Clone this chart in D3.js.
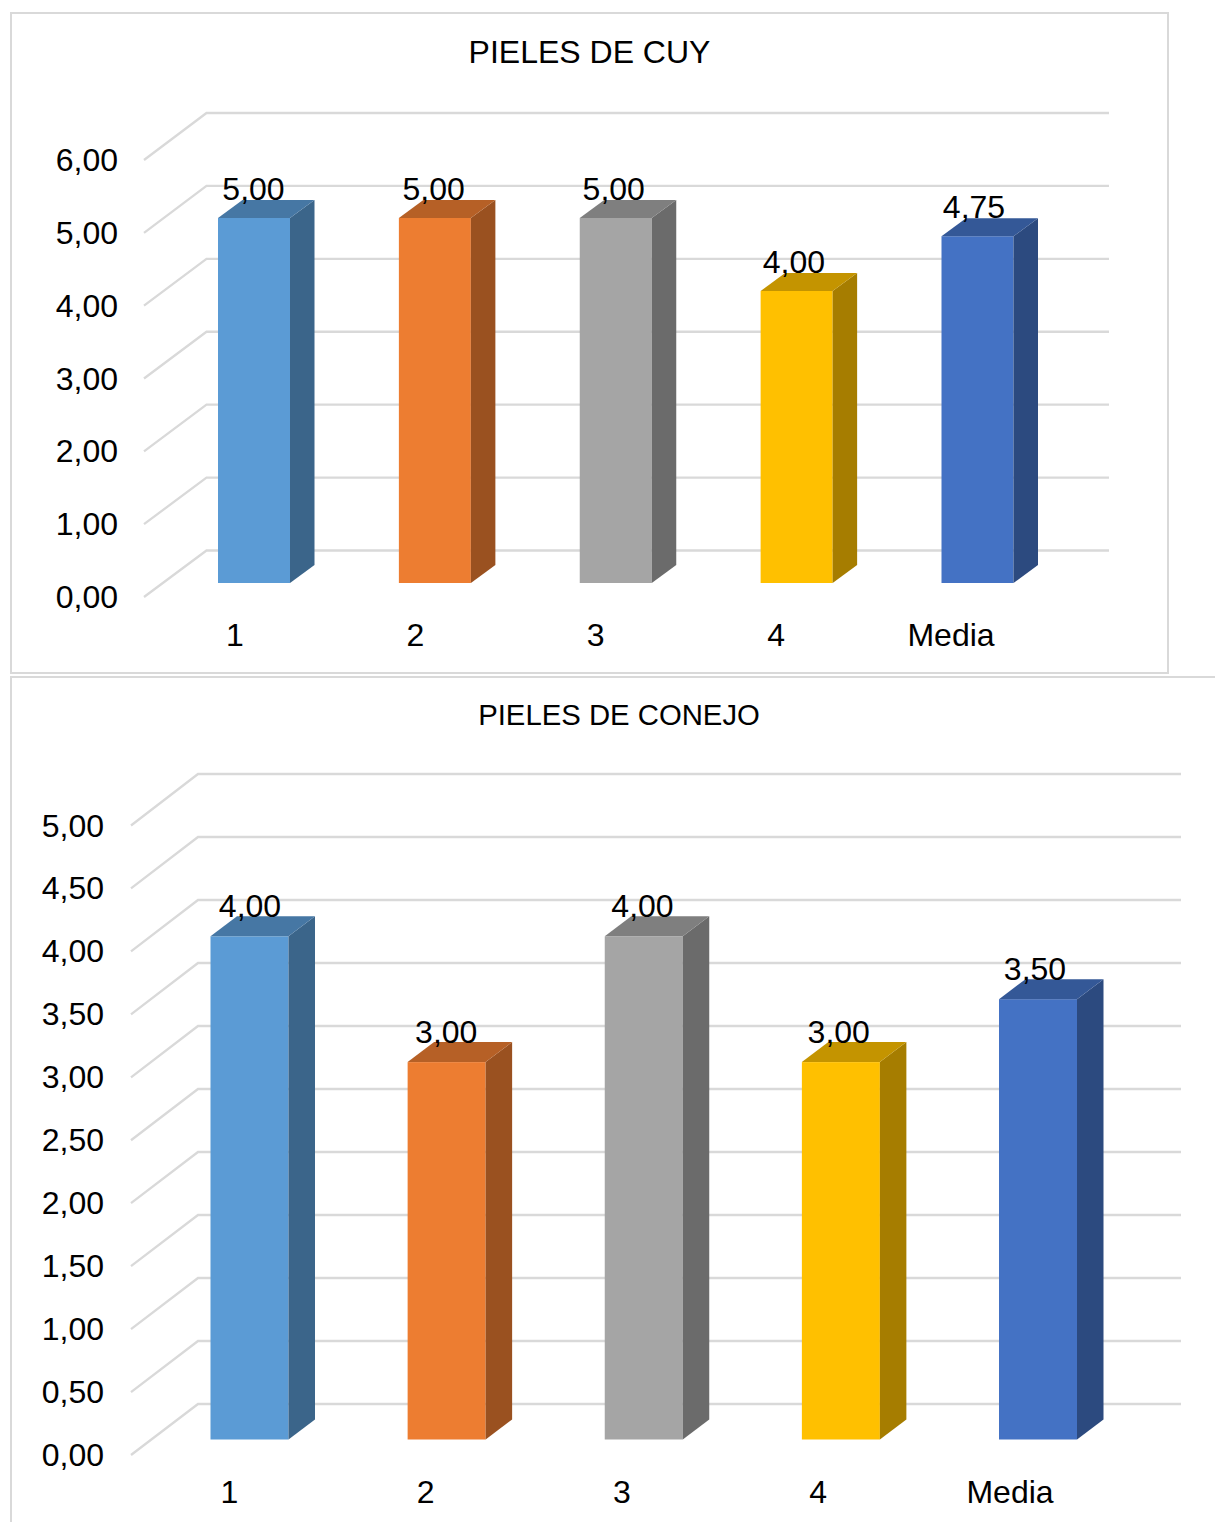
<!DOCTYPE html>
<html lang="es">
<head>
<meta charset="utf-8">
<title>Pieles de cuy y de conejo</title>
<script src="https://cdn.jsdelivr.net/npm/d3@7/dist/d3.min.js"></script>
<style>
  html, body { margin: 0; padding: 0; background: #fff; }
  svg { display: block; }
  text { font-family: "Liberation Sans", Arial, sans-serif; fill: #000; }
</style>
</head>
<body>
<svg id="chart" width="1215" height="1522"></svg>
<script>
// Shared categories and bar colours
const categories = ["1", "2", "3", "4", "Media"];
const barColors = ["#5B9BD5", "#ED7D31", "#A5A5A5", "#FFC000", "#4472C4"];

// Values per chart
const cuyValues = [5, 5, 5, 4, 4.75];
const conejoValues = [4, 3, 4, 3, 3.5];

// Axis ticks per chart
const cuyTicks = [0, 1, 2, 3, 4, 5, 6];
const conejoTicks = [0, 0.5, 1, 1.5, 2, 2.5, 3, 3.5, 4, 4.5, 5];

const GRID = "#d9d9d9";
const fmt = v => v.toFixed(2).replace(".", ",");
const shade = (c, k) => {
  const r = d3.rgb(c);
  return d3.rgb(r.r * k, r.g * k, r.b * k).formatHex();
};

const svg = d3.select("#chart");

// Draws one pseudo-3D column chart: floor and left wall gridlines, then extruded bars
function columnChart(cfg) {
  const g = svg.append("g");
  const maxTick = d3.max(cfg.ticks);

  const yFront = d3.scaleLinear().domain([0, maxTick]).range(cfg.frontY);
  const yBack = d3.scaleLinear().domain([0, maxTick]).range(cfg.backY);
  const yBar = d3.scaleLinear().domain([0, maxTick]).range(cfg.barY);
  const x = d3.scaleBand().domain(categories)
    .range(cfg.barX).paddingInner(cfg.gap).paddingOuter(0);
  const xValue = d3.scalePoint().domain(categories).range(cfg.valueX);
  const xCat = d3.scalePoint().domain(categories).range(cfg.catX);

  g.append("text")
    .attr("x", cfg.titleX).attr("y", cfg.titleY)
    .attr("text-anchor", "middle")
    .attr("font-size", cfg.titleSize)
    .text(cfg.title);

  const grid = g.append("g").attr("fill", "none")
    .attr("stroke", GRID).attr("stroke-width", 2.3);
  grid.selectAll("polyline").data(cfg.ticks).join("polyline")
    .attr("points", d => [
      [cfg.frontX, yFront(d)],
      [cfg.wallX, yBack(d)],
      [cfg.gridEnd, yBack(d)]
    ].join(" "));

  g.append("g").selectAll("text").data(cfg.ticks).join("text")
    .attr("x", cfg.tickX).attr("y", d => yFront(d) + 11)
    .attr("text-anchor", "end")
    .attr("font-size", 32)
    .text(fmt);

  const rows = categories.map((c, i) => ({ c, v: cfg.values[i], color: barColors[i] }));
  const bars = g.append("g").selectAll("g").data(rows).join("g");
  const w = x.bandwidth();
  const [dx, dy] = cfg.depth;

  bars.append("rect")
    .attr("x", d => x(d.c)).attr("y", d => yBar(d.v))
    .attr("width", w).attr("height", d => yBar(0) - yBar(d.v))
    .attr("fill", d => d.color);

  bars.append("polygon")
    .attr("fill", d => shade(d.color, 0.65))
    .attr("points", d => {
      const r = x(d.c) + w;
      return [[r, yBar(d.v)], [r + dx, yBar(d.v) - dy], [r + dx, yBar(0) - dy], [r, yBar(0)]].join(" ");
    });

  bars.append("polygon")
    .attr("fill", d => shade(d.color, 0.77))
    .attr("points", d => {
      const l = x(d.c);
      const t = yBar(d.v);
      return [[l, t], [l + dx, t - dy], [l + w + dx, t - dy], [l + w, t]].join(" ");
    });

  bars.append("text")
    .attr("x", d => xValue(d.c))
    .attr("y", d => yBar(d.v) - cfg.valueGap)
    .attr("text-anchor", "middle")
    .attr("font-size", 32)
    .text(d => fmt(d.v));

  bars.append("text")
    .attr("x", d => xCat(d.c) + (d.c === "Media" ? cfg.mediaShift : 0))
    .attr("y", cfg.catY)
    .attr("text-anchor", "middle")
    .attr("font-size", 32)
    .text(d => d.c);
}

// Frames around the two chart areas
svg.append("rect")
  .attr("x", 11).attr("y", 13).attr("width", 1157).attr("height", 660)
  .attr("fill", "none").attr("stroke", GRID).attr("stroke-width", 2);
svg.append("polyline")
  .attr("points", "1215,677 11,677 11,1522")
  .attr("fill", "none").attr("stroke", GRID).attr("stroke-width", 2);

columnChart({
  title: "PIELES DE CUY", titleX: 589.5, titleY: 63, titleSize: 32,
  values: cuyValues, ticks: cuyTicks,
  frontX: 144, wallX: 206.5, gridEnd: 1109, tickX: 118,
  frontY: [597, 160], backY: [550.5, 113], barY: [583, 145],
  barX: [218, 1013.5], gap: 1 - 72 / 180.875, depth: [24.5, 18],
  valueGap: 18, valueX: [253.5, 974], catX: [235, 956.5], mediaShift: -5.5, catY: 646
});

columnChart({
  title: "PIELES DE CONEJO", titleX: 619, titleY: 725, titleSize: 29.3,
  values: conejoValues, ticks: conejoTicks,
  frontX: 131, wallX: 198, gridEnd: 1181, tickX: 104,
  frontY: [1455, 825.5], backY: [1404, 774], barY: [1439.5, 810.5],
  barX: [210.5, 1077], gap: 1 - 78 / 197.125, depth: [26.5, 20],
  valueGap: 19, valueX: [250, 1035], catX: [229.5, 1014.5], mediaShift: -4.5, catY: 1503
});
</script>
</body>
</html>
